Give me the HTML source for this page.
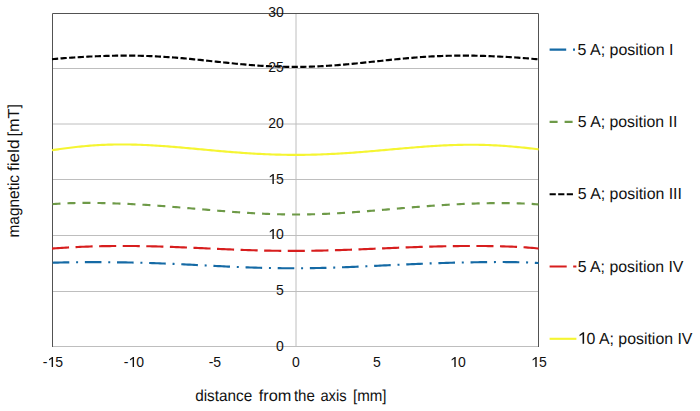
<!DOCTYPE html>
<html><head><meta charset="utf-8"><style>
html,body{margin:0;padding:0;background:#fff;width:700px;height:411px;overflow:hidden}
svg{display:block}
text{font-family:"Liberation Sans",sans-serif;fill:#111111}
</style></head><body>
<svg width="700" height="411" viewBox="0 0 700 411">
<rect width="700" height="411" fill="#fff"/>

<line x1="52" y1="68.5" x2="539" y2="68.5" stroke="#bebebe" stroke-width="1"/>
<line x1="52" y1="124.0" x2="539" y2="124.0" stroke="#bebebe" stroke-width="1"/>
<line x1="52" y1="179.5" x2="539" y2="179.5" stroke="#bebebe" stroke-width="1"/>
<line x1="52" y1="235.5" x2="539" y2="235.5" stroke="#bebebe" stroke-width="1"/>
<line x1="52" y1="291.5" x2="539" y2="291.5" stroke="#bebebe" stroke-width="1"/>
<line x1="52" y1="346.5" x2="539" y2="346.5" stroke="#bebebe" stroke-width="1"/>
<line x1="296" y1="13" x2="296" y2="346" stroke="#bebebe" stroke-width="1"/>
<path d="M52.5,347 L52.5,13.5 L538.5,13.5 L538.5,347" fill="none" stroke="#525252" stroke-width="1"/>
<path d="M52.00,262.74 L54.00,262.67 L56.00,262.61 L58.00,262.56 L60.00,262.51 L62.00,262.47 L64.00,262.43 L66.00,262.39 L68.00,262.35 L70.00,262.32 L72.00,262.30 L74.00,262.27 L76.00,262.25 L78.00,262.23 L80.00,262.21 L82.00,262.20 L84.00,262.19 L86.00,262.18 L88.00,262.17 L90.00,262.17 L92.00,262.16 L94.00,262.16 L96.00,262.16 L98.00,262.17 L100.00,262.17 L102.00,262.18 L104.00,262.19 L106.00,262.20 L108.00,262.21 L110.00,262.23 L112.00,262.25 L114.00,262.27 L116.00,262.29 L118.00,262.32 L120.00,262.34 L122.00,262.37 L124.00,262.40 L126.00,262.44 L128.00,262.47 L130.00,262.51 L132.00,262.55 L134.00,262.60 L136.00,262.64 L138.00,262.69 L140.00,262.74 L142.00,262.79 L144.00,262.85 L146.00,262.91 L148.00,262.97 L150.00,263.03 L152.00,263.09 L154.00,263.16 L156.00,263.23 L158.00,263.30 L160.00,263.37 L162.00,263.45 L164.00,263.52 L166.00,263.60 L168.00,263.68 L170.00,263.77 L172.00,263.85 L174.00,263.94 L176.00,264.03 L178.00,264.12 L180.00,264.21 L182.00,264.30 L184.00,264.40 L186.00,264.49 L188.00,264.59 L190.00,264.68 L192.00,264.78 L194.00,264.88 L196.00,264.98 L198.00,265.08 L200.00,265.18 L202.00,265.28 L204.00,265.38 L206.00,265.48 L208.00,265.58 L210.00,265.68 L212.00,265.78 L214.00,265.88 L216.00,265.98 L218.00,266.08 L220.00,266.18 L222.00,266.27 L224.00,266.37 L226.00,266.47 L228.00,266.56 L230.00,266.65 L232.00,266.74 L234.00,266.83 L236.00,266.92 L238.00,267.00 L240.00,267.09 L242.00,267.17 L244.00,267.25 L246.00,267.32 L248.00,267.40 L250.00,267.47 L252.00,267.54 L254.00,267.60 L256.00,267.67 L258.00,267.73 L260.00,267.79 L262.00,267.84 L264.00,267.89 L266.00,267.94 L268.00,267.99 L270.00,268.03 L272.00,268.07 L274.00,268.11 L276.00,268.14 L278.00,268.17 L280.00,268.19 L282.00,268.22 L284.00,268.23 L286.00,268.25 L288.00,268.26 L290.00,268.27 L292.00,268.27 L294.00,268.27 L296.00,268.27 L298.00,268.26 L300.00,268.25 L302.00,268.24 L304.00,268.22 L306.00,268.20 L308.00,268.18 L310.00,268.15 L312.00,268.12 L314.00,268.09 L316.00,268.05 L318.00,268.01 L320.00,267.97 L322.00,267.92 L324.00,267.87 L326.00,267.82 L328.00,267.76 L330.00,267.70 L332.00,267.64 L334.00,267.58 L336.00,267.51 L338.00,267.45 L340.00,267.37 L342.00,267.30 L344.00,267.23 L346.00,267.15 L348.00,267.07 L350.00,266.99 L352.00,266.91 L354.00,266.82 L356.00,266.73 L358.00,266.65 L360.00,266.56 L362.00,266.47 L364.00,266.38 L366.00,266.28 L368.00,266.19 L370.00,266.10 L372.00,266.00 L374.00,265.91 L376.00,265.81 L378.00,265.72 L380.00,265.62 L382.00,265.53 L384.00,265.43 L386.00,265.33 L388.00,265.24 L390.00,265.14 L392.00,265.05 L394.00,264.95 L396.00,264.86 L398.00,264.77 L400.00,264.67 L402.00,264.58 L404.00,264.49 L406.00,264.40 L408.00,264.31 L410.00,264.23 L412.00,264.14 L414.00,264.06 L416.00,263.97 L418.00,263.89 L420.00,263.81 L422.00,263.73 L424.00,263.65 L426.00,263.58 L428.00,263.50 L430.00,263.43 L432.00,263.36 L434.00,263.29 L436.00,263.22 L438.00,263.15 L440.00,263.09 L442.00,263.03 L444.00,262.97 L446.00,262.91 L448.00,262.85 L450.00,262.79 L452.00,262.74 L454.00,262.69 L456.00,262.64 L458.00,262.59 L460.00,262.54 L462.00,262.50 L464.00,262.46 L466.00,262.42 L468.00,262.38 L470.00,262.34 L472.00,262.31 L474.00,262.27 L476.00,262.24 L478.00,262.21 L480.00,262.19 L482.00,262.16 L484.00,262.14 L486.00,262.12 L488.00,262.10 L490.00,262.09 L492.00,262.07 L494.00,262.06 L496.00,262.05 L498.00,262.05 L500.00,262.05 L502.00,262.05 L504.00,262.05 L506.00,262.06 L508.00,262.08 L510.00,262.09 L512.00,262.12 L514.00,262.14 L516.00,262.17 L518.00,262.21 L520.00,262.26 L522.00,262.31 L524.00,262.36 L526.00,262.43 L528.00,262.50 L530.00,262.59 L532.00,262.68 L534.00,262.78 L536.00,262.89 L538.00,263.02 L538.60,263.06" fill="none" stroke="#156AA5" stroke-width="2.14" stroke-dasharray="16.6 6.8 2 6.76" stroke-dashoffset="-0.7"/>
<path d="M52.00,248.58 L54.00,248.42 L56.00,248.27 L58.00,248.12 L60.00,247.98 L62.00,247.85 L64.00,247.72 L66.00,247.59 L68.00,247.48 L70.00,247.37 L72.00,247.26 L74.00,247.16 L76.00,247.06 L78.00,246.97 L80.00,246.88 L82.00,246.80 L84.00,246.72 L86.00,246.64 L88.00,246.57 L90.00,246.50 L92.00,246.44 L94.00,246.38 L96.00,246.33 L98.00,246.28 L100.00,246.23 L102.00,246.19 L104.00,246.15 L106.00,246.12 L108.00,246.09 L110.00,246.06 L112.00,246.04 L114.00,246.02 L116.00,246.00 L118.00,245.99 L120.00,245.98 L122.00,245.98 L124.00,245.97 L126.00,245.98 L128.00,245.98 L130.00,245.99 L132.00,246.01 L134.00,246.02 L136.00,246.04 L138.00,246.07 L140.00,246.09 L142.00,246.12 L144.00,246.16 L146.00,246.19 L148.00,246.23 L150.00,246.28 L152.00,246.32 L154.00,246.37 L156.00,246.42 L158.00,246.48 L160.00,246.53 L162.00,246.59 L164.00,246.66 L166.00,246.72 L168.00,246.79 L170.00,246.86 L172.00,246.93 L174.00,247.00 L176.00,247.08 L178.00,247.15 L180.00,247.23 L182.00,247.31 L184.00,247.40 L186.00,247.48 L188.00,247.56 L190.00,247.65 L192.00,247.74 L194.00,247.83 L196.00,247.91 L198.00,248.00 L200.00,248.09 L202.00,248.18 L204.00,248.28 L206.00,248.37 L208.00,248.46 L210.00,248.55 L212.00,248.64 L214.00,248.73 L216.00,248.82 L218.00,248.91 L220.00,249.00 L222.00,249.09 L224.00,249.17 L226.00,249.26 L228.00,249.35 L230.00,249.43 L232.00,249.51 L234.00,249.59 L236.00,249.67 L238.00,249.75 L240.00,249.82 L242.00,249.90 L244.00,249.97 L246.00,250.04 L248.00,250.11 L250.00,250.17 L252.00,250.24 L254.00,250.30 L256.00,250.35 L258.00,250.41 L260.00,250.46 L262.00,250.51 L264.00,250.56 L266.00,250.60 L268.00,250.64 L270.00,250.68 L272.00,250.72 L274.00,250.75 L276.00,250.78 L278.00,250.80 L280.00,250.83 L282.00,250.85 L284.00,250.86 L286.00,250.87 L288.00,250.88 L290.00,250.89 L292.00,250.89 L294.00,250.89 L296.00,250.89 L298.00,250.88 L300.00,250.88 L302.00,250.86 L304.00,250.85 L306.00,250.83 L308.00,250.80 L310.00,250.78 L312.00,250.75 L314.00,250.72 L316.00,250.69 L318.00,250.65 L320.00,250.61 L322.00,250.57 L324.00,250.52 L326.00,250.47 L328.00,250.42 L330.00,250.37 L332.00,250.31 L334.00,250.25 L336.00,250.19 L338.00,250.13 L340.00,250.07 L342.00,250.00 L344.00,249.93 L346.00,249.86 L348.00,249.79 L350.00,249.72 L352.00,249.64 L354.00,249.57 L356.00,249.49 L358.00,249.41 L360.00,249.33 L362.00,249.25 L364.00,249.17 L366.00,249.08 L368.00,249.00 L370.00,248.92 L372.00,248.83 L374.00,248.75 L376.00,248.66 L378.00,248.58 L380.00,248.49 L382.00,248.41 L384.00,248.32 L386.00,248.24 L388.00,248.15 L390.00,248.07 L392.00,247.99 L394.00,247.90 L396.00,247.82 L398.00,247.74 L400.00,247.66 L402.00,247.58 L404.00,247.50 L406.00,247.43 L408.00,247.35 L410.00,247.28 L412.00,247.20 L414.00,247.13 L416.00,247.06 L418.00,247.00 L420.00,246.93 L422.00,246.87 L424.00,246.80 L426.00,246.74 L428.00,246.68 L430.00,246.63 L432.00,246.57 L434.00,246.52 L436.00,246.47 L438.00,246.42 L440.00,246.38 L442.00,246.33 L444.00,246.29 L446.00,246.25 L448.00,246.22 L450.00,246.18 L452.00,246.15 L454.00,246.12 L456.00,246.10 L458.00,246.08 L460.00,246.05 L462.00,246.04 L464.00,246.02 L466.00,246.01 L468.00,246.00 L470.00,245.99 L472.00,245.99 L474.00,245.99 L476.00,245.99 L478.00,245.99 L480.00,246.00 L482.00,246.02 L484.00,246.03 L486.00,246.05 L488.00,246.07 L490.00,246.10 L492.00,246.13 L494.00,246.16 L496.00,246.20 L498.00,246.24 L500.00,246.29 L502.00,246.34 L504.00,246.40 L506.00,246.46 L508.00,246.52 L510.00,246.60 L512.00,246.68 L514.00,246.76 L516.00,246.85 L518.00,246.95 L520.00,247.06 L522.00,247.17 L524.00,247.29 L526.00,247.43 L528.00,247.57 L530.00,247.72 L532.00,247.88 L534.00,248.05 L536.00,248.24 L538.00,248.44 L538.60,248.50" fill="none" stroke="#D71E1E" stroke-width="2.14" stroke-dasharray="17.1 6.49"/>
<path d="M52.00,204.15 L54.00,203.99 L56.00,203.84 L58.00,203.71 L60.00,203.60 L62.00,203.49 L64.00,203.39 L66.00,203.31 L68.00,203.23 L70.00,203.17 L72.00,203.11 L74.00,203.06 L76.00,203.02 L78.00,202.98 L80.00,202.96 L82.00,202.94 L84.00,202.93 L86.00,202.92 L88.00,202.92 L90.00,202.92 L92.00,202.93 L94.00,202.95 L96.00,202.97 L98.00,203.00 L100.00,203.03 L102.00,203.07 L104.00,203.11 L106.00,203.16 L108.00,203.21 L110.00,203.26 L112.00,203.32 L114.00,203.38 L116.00,203.45 L118.00,203.52 L120.00,203.60 L122.00,203.68 L124.00,203.76 L126.00,203.85 L128.00,203.94 L130.00,204.04 L132.00,204.13 L134.00,204.24 L136.00,204.34 L138.00,204.45 L140.00,204.57 L142.00,204.68 L144.00,204.80 L146.00,204.93 L148.00,205.05 L150.00,205.18 L152.00,205.32 L154.00,205.45 L156.00,205.59 L158.00,205.73 L160.00,205.88 L162.00,206.02 L164.00,206.17 L166.00,206.32 L168.00,206.48 L170.00,206.63 L172.00,206.79 L174.00,206.95 L176.00,207.12 L178.00,207.28 L180.00,207.45 L182.00,207.61 L184.00,207.78 L186.00,207.95 L188.00,208.12 L190.00,208.29 L192.00,208.47 L194.00,208.64 L196.00,208.81 L198.00,208.99 L200.00,209.16 L202.00,209.33 L204.00,209.51 L206.00,209.68 L208.00,209.85 L210.00,210.02 L212.00,210.20 L214.00,210.37 L216.00,210.53 L218.00,210.70 L220.00,210.87 L222.00,211.03 L224.00,211.19 L226.00,211.35 L228.00,211.51 L230.00,211.66 L232.00,211.81 L234.00,211.96 L236.00,212.11 L238.00,212.25 L240.00,212.39 L242.00,212.53 L244.00,212.66 L246.00,212.79 L248.00,212.92 L250.00,213.04 L252.00,213.16 L254.00,213.27 L256.00,213.38 L258.00,213.48 L260.00,213.58 L262.00,213.68 L264.00,213.77 L266.00,213.85 L268.00,213.93 L270.00,214.00 L272.00,214.07 L274.00,214.14 L276.00,214.20 L278.00,214.25 L280.00,214.30 L282.00,214.34 L284.00,214.37 L286.00,214.40 L288.00,214.43 L290.00,214.45 L292.00,214.46 L294.00,214.47 L296.00,214.47 L298.00,214.47 L300.00,214.46 L302.00,214.44 L304.00,214.42 L306.00,214.39 L308.00,214.36 L310.00,214.32 L312.00,214.28 L314.00,214.23 L316.00,214.17 L318.00,214.11 L320.00,214.04 L322.00,213.97 L324.00,213.89 L326.00,213.81 L328.00,213.72 L330.00,213.63 L332.00,213.54 L334.00,213.43 L336.00,213.33 L338.00,213.22 L340.00,213.10 L342.00,212.98 L344.00,212.86 L346.00,212.73 L348.00,212.60 L350.00,212.46 L352.00,212.32 L354.00,212.18 L356.00,212.04 L358.00,211.89 L360.00,211.74 L362.00,211.58 L364.00,211.43 L366.00,211.27 L368.00,211.11 L370.00,210.94 L372.00,210.78 L374.00,210.61 L376.00,210.44 L378.00,210.27 L380.00,210.10 L382.00,209.93 L384.00,209.76 L386.00,209.58 L388.00,209.41 L390.00,209.24 L392.00,209.06 L394.00,208.89 L396.00,208.71 L398.00,208.54 L400.00,208.37 L402.00,208.19 L404.00,208.02 L406.00,207.85 L408.00,207.68 L410.00,207.51 L412.00,207.35 L414.00,207.18 L416.00,207.02 L418.00,206.86 L420.00,206.70 L422.00,206.54 L424.00,206.39 L426.00,206.24 L428.00,206.09 L430.00,205.94 L432.00,205.80 L434.00,205.65 L436.00,205.52 L438.00,205.38 L440.00,205.25 L442.00,205.12 L444.00,204.99 L446.00,204.87 L448.00,204.75 L450.00,204.64 L452.00,204.53 L454.00,204.42 L456.00,204.32 L458.00,204.22 L460.00,204.12 L462.00,204.03 L464.00,203.94 L466.00,203.86 L468.00,203.78 L470.00,203.70 L472.00,203.63 L474.00,203.56 L476.00,203.50 L478.00,203.44 L480.00,203.38 L482.00,203.33 L484.00,203.29 L486.00,203.25 L488.00,203.21 L490.00,203.18 L492.00,203.15 L494.00,203.13 L496.00,203.12 L498.00,203.11 L500.00,203.10 L502.00,203.10 L504.00,203.11 L506.00,203.12 L508.00,203.14 L510.00,203.16 L512.00,203.19 L514.00,203.23 L516.00,203.27 L518.00,203.32 L520.00,203.38 L522.00,203.45 L524.00,203.53 L526.00,203.62 L528.00,203.71 L530.00,203.82 L532.00,203.93 L534.00,204.06 L536.00,204.20 L538.00,204.35 L538.60,204.40" fill="none" stroke="#6E9A48" stroke-width="2.14" stroke-dasharray="8 7" stroke-dashoffset="-0.5"/>
<path d="M52.00,150.21 L54.00,149.91 L56.00,149.62 L58.00,149.33 L60.00,149.04 L62.00,148.76 L64.00,148.49 L66.00,148.22 L68.00,147.97 L70.00,147.72 L72.00,147.47 L74.00,147.24 L76.00,147.01 L78.00,146.80 L80.00,146.59 L82.00,146.39 L84.00,146.20 L86.00,146.02 L88.00,145.85 L90.00,145.69 L92.00,145.54 L94.00,145.40 L96.00,145.27 L98.00,145.15 L100.00,145.04 L102.00,144.94 L104.00,144.84 L106.00,144.76 L108.00,144.69 L110.00,144.63 L112.00,144.58 L114.00,144.53 L116.00,144.50 L118.00,144.48 L120.00,144.46 L122.00,144.46 L124.00,144.46 L126.00,144.48 L128.00,144.50 L130.00,144.53 L132.00,144.57 L134.00,144.61 L136.00,144.67 L138.00,144.73 L140.00,144.80 L142.00,144.88 L144.00,144.96 L146.00,145.05 L148.00,145.15 L150.00,145.25 L152.00,145.36 L154.00,145.48 L156.00,145.60 L158.00,145.73 L160.00,145.86 L162.00,146.00 L164.00,146.14 L166.00,146.29 L168.00,146.44 L170.00,146.60 L172.00,146.76 L174.00,146.92 L176.00,147.09 L178.00,147.25 L180.00,147.43 L182.00,147.60 L184.00,147.78 L186.00,147.96 L188.00,148.14 L190.00,148.32 L192.00,148.50 L194.00,148.69 L196.00,148.87 L198.00,149.06 L200.00,149.24 L202.00,149.43 L204.00,149.61 L206.00,149.80 L208.00,149.98 L210.00,150.17 L212.00,150.35 L214.00,150.53 L216.00,150.71 L218.00,150.89 L220.00,151.07 L222.00,151.24 L224.00,151.42 L226.00,151.59 L228.00,151.75 L230.00,151.92 L232.00,152.08 L234.00,152.24 L236.00,152.39 L238.00,152.54 L240.00,152.69 L242.00,152.84 L244.00,152.98 L246.00,153.11 L248.00,153.24 L250.00,153.37 L252.00,153.49 L254.00,153.61 L256.00,153.73 L258.00,153.84 L260.00,153.94 L262.00,154.04 L264.00,154.13 L266.00,154.22 L268.00,154.30 L270.00,154.38 L272.00,154.45 L274.00,154.52 L276.00,154.58 L278.00,154.64 L280.00,154.68 L282.00,154.73 L284.00,154.77 L286.00,154.80 L288.00,154.83 L290.00,154.85 L292.00,154.86 L294.00,154.87 L296.00,154.87 L298.00,154.87 L300.00,154.86 L302.00,154.85 L304.00,154.82 L306.00,154.80 L308.00,154.77 L310.00,154.73 L312.00,154.68 L314.00,154.63 L316.00,154.58 L318.00,154.52 L320.00,154.45 L322.00,154.38 L324.00,154.30 L326.00,154.22 L328.00,154.13 L330.00,154.04 L332.00,153.94 L334.00,153.84 L336.00,153.73 L338.00,153.62 L340.00,153.51 L342.00,153.38 L344.00,153.26 L346.00,153.13 L348.00,153.00 L350.00,152.86 L352.00,152.72 L354.00,152.57 L356.00,152.42 L358.00,152.27 L360.00,152.12 L362.00,151.96 L364.00,151.80 L366.00,151.64 L368.00,151.47 L370.00,151.30 L372.00,151.13 L374.00,150.96 L376.00,150.79 L378.00,150.61 L380.00,150.44 L382.00,150.26 L384.00,150.08 L386.00,149.90 L388.00,149.72 L390.00,149.55 L392.00,149.37 L394.00,149.19 L396.00,149.01 L398.00,148.83 L400.00,148.65 L402.00,148.48 L404.00,148.30 L406.00,148.13 L408.00,147.96 L410.00,147.79 L412.00,147.62 L414.00,147.45 L416.00,147.29 L418.00,147.13 L420.00,146.98 L422.00,146.83 L424.00,146.68 L426.00,146.53 L428.00,146.39 L430.00,146.25 L432.00,146.12 L434.00,145.99 L436.00,145.87 L438.00,145.76 L440.00,145.64 L442.00,145.54 L444.00,145.44 L446.00,145.34 L448.00,145.26 L450.00,145.17 L452.00,145.10 L454.00,145.03 L456.00,144.97 L458.00,144.92 L460.00,144.87 L462.00,144.83 L464.00,144.80 L466.00,144.77 L468.00,144.76 L470.00,144.75 L472.00,144.75 L474.00,144.76 L476.00,144.78 L478.00,144.80 L480.00,144.83 L482.00,144.88 L484.00,144.93 L486.00,144.99 L488.00,145.05 L490.00,145.13 L492.00,145.22 L494.00,145.31 L496.00,145.41 L498.00,145.52 L500.00,145.64 L502.00,145.77 L504.00,145.90 L506.00,146.05 L508.00,146.20 L510.00,146.36 L512.00,146.53 L514.00,146.70 L516.00,146.88 L518.00,147.07 L520.00,147.26 L522.00,147.47 L524.00,147.67 L526.00,147.89 L528.00,148.10 L530.00,148.33 L532.00,148.55 L534.00,148.78 L536.00,149.02 L538.00,149.25 L538.60,149.32" fill="none" stroke="#F5F532" stroke-width="2.14"/>
<path d="M52.00,59.20 L54.00,59.01 L56.00,58.83 L58.00,58.65 L60.00,58.48 L62.00,58.32 L64.00,58.17 L66.00,58.02 L68.00,57.87 L70.00,57.73 L72.00,57.59 L74.00,57.46 L76.00,57.33 L78.00,57.21 L80.00,57.09 L82.00,56.97 L84.00,56.86 L86.00,56.75 L88.00,56.65 L90.00,56.55 L92.00,56.46 L94.00,56.37 L96.00,56.28 L98.00,56.20 L100.00,56.12 L102.00,56.05 L104.00,55.98 L106.00,55.92 L108.00,55.86 L110.00,55.81 L112.00,55.77 L114.00,55.73 L116.00,55.69 L118.00,55.66 L120.00,55.64 L122.00,55.62 L124.00,55.61 L126.00,55.61 L128.00,55.61 L130.00,55.62 L132.00,55.64 L134.00,55.66 L136.00,55.69 L138.00,55.73 L140.00,55.77 L142.00,55.82 L144.00,55.88 L146.00,55.94 L148.00,56.01 L150.00,56.09 L152.00,56.17 L154.00,56.26 L156.00,56.36 L158.00,56.47 L160.00,56.58 L162.00,56.69 L164.00,56.82 L166.00,56.95 L168.00,57.08 L170.00,57.23 L172.00,57.37 L174.00,57.53 L176.00,57.69 L178.00,57.85 L180.00,58.02 L182.00,58.19 L184.00,58.37 L186.00,58.55 L188.00,58.74 L190.00,58.93 L192.00,59.12 L194.00,59.32 L196.00,59.52 L198.00,59.72 L200.00,59.93 L202.00,60.13 L204.00,60.34 L206.00,60.55 L208.00,60.77 L210.00,60.98 L212.00,61.19 L214.00,61.41 L216.00,61.62 L218.00,61.83 L220.00,62.05 L222.00,62.26 L224.00,62.47 L226.00,62.68 L228.00,62.88 L230.00,63.09 L232.00,63.29 L234.00,63.49 L236.00,63.69 L238.00,63.88 L240.00,64.07 L242.00,64.25 L244.00,64.43 L246.00,64.61 L248.00,64.78 L250.00,64.95 L252.00,65.11 L254.00,65.26 L256.00,65.41 L258.00,65.56 L260.00,65.70 L262.00,65.83 L264.00,65.95 L266.00,66.07 L268.00,66.18 L270.00,66.28 L272.00,66.38 L274.00,66.46 L276.00,66.55 L278.00,66.62 L280.00,66.68 L282.00,66.74 L284.00,66.79 L286.00,66.83 L288.00,66.86 L290.00,66.89 L292.00,66.90 L294.00,66.91 L296.00,66.91 L298.00,66.90 L300.00,66.88 L302.00,66.86 L304.00,66.82 L306.00,66.78 L308.00,66.73 L310.00,66.67 L312.00,66.61 L314.00,66.53 L316.00,66.45 L318.00,66.36 L320.00,66.26 L322.00,66.16 L324.00,66.05 L326.00,65.93 L328.00,65.80 L330.00,65.67 L332.00,65.53 L334.00,65.39 L336.00,65.24 L338.00,65.08 L340.00,64.92 L342.00,64.75 L344.00,64.58 L346.00,64.40 L348.00,64.22 L350.00,64.03 L352.00,63.84 L354.00,63.65 L356.00,63.45 L358.00,63.25 L360.00,63.05 L362.00,62.84 L364.00,62.64 L366.00,62.43 L368.00,62.22 L370.00,62.00 L372.00,61.79 L374.00,61.58 L376.00,61.36 L378.00,61.15 L380.00,60.94 L382.00,60.72 L384.00,60.51 L386.00,60.30 L388.00,60.09 L390.00,59.88 L392.00,59.68 L394.00,59.47 L396.00,59.27 L398.00,59.08 L400.00,58.88 L402.00,58.69 L404.00,58.51 L406.00,58.33 L408.00,58.15 L410.00,57.98 L412.00,57.81 L414.00,57.64 L416.00,57.49 L418.00,57.33 L420.00,57.19 L422.00,57.04 L424.00,56.91 L426.00,56.78 L428.00,56.66 L430.00,56.54 L432.00,56.43 L434.00,56.33 L436.00,56.23 L438.00,56.14 L440.00,56.06 L442.00,55.98 L444.00,55.91 L446.00,55.85 L448.00,55.79 L450.00,55.75 L452.00,55.70 L454.00,55.67 L456.00,55.64 L458.00,55.62 L460.00,55.61 L462.00,55.60 L464.00,55.60 L466.00,55.60 L468.00,55.62 L470.00,55.64 L472.00,55.66 L474.00,55.69 L476.00,55.73 L478.00,55.77 L480.00,55.82 L482.00,55.87 L484.00,55.93 L486.00,56.00 L488.00,56.07 L490.00,56.15 L492.00,56.23 L494.00,56.31 L496.00,56.40 L498.00,56.50 L500.00,56.59 L502.00,56.70 L504.00,56.81 L506.00,56.92 L508.00,57.03 L510.00,57.15 L512.00,57.28 L514.00,57.41 L516.00,57.54 L518.00,57.68 L520.00,57.82 L522.00,57.97 L524.00,58.12 L526.00,58.28 L528.00,58.44 L530.00,58.61 L532.00,58.78 L534.00,58.97 L536.00,59.15 L538.00,59.35 L538.60,59.41" fill="none" stroke="#000000" stroke-width="2.14" stroke-dasharray="6.2 2.38"/>
<text x="268.23" y="16.60" font-size="14">3</text>
<text x="276.01" y="16.60" font-size="14">0</text>
<text x="268.23" y="72.25" font-size="14">2</text>
<text x="276.01" y="72.25" font-size="14">5</text>
<text x="268.23" y="127.90" font-size="14">2</text>
<text x="276.01" y="127.90" font-size="14">0</text>
<path d="M273.83,184.00 L272.43,184.00 L272.43,175.67 L269.77,177.42 L269.77,176.16 L272.85,173.98 L273.83,173.98 Z" fill="#111111"/>
<text x="276.01" y="183.55" font-size="14">5</text>
<path d="M273.83,239.00 L272.43,239.00 L272.43,230.67 L269.77,232.42 L269.77,231.16 L272.85,228.98 L273.83,228.98 Z" fill="#111111"/>
<text x="276.01" y="239.20" font-size="14">0</text>
<text x="276.01" y="294.85" font-size="14">5</text>
<text x="276.01" y="350.50" font-size="14">0</text>
<text x="42.78" y="367.30" font-size="14">-</text>
<path d="M53.04,367.00 L51.64,367.00 L51.64,358.67 L48.98,360.42 L48.98,359.16 L52.06,356.98 L53.04,356.98 Z" fill="#111111"/>
<text x="55.23" y="367.30" font-size="14">5</text>
<text x="123.78" y="367.30" font-size="14">-</text>
<path d="M134.04,367.00 L132.64,367.00 L132.64,358.67 L129.98,360.42 L129.98,359.16 L133.06,356.98 L134.04,356.98 Z" fill="#111111"/>
<text x="136.23" y="367.30" font-size="14">0</text>
<text x="208.68" y="367.30" font-size="14">-</text>
<text x="213.34" y="367.30" font-size="14">5</text>
<text x="292.01" y="367.30" font-size="14">0</text>
<text x="373.01" y="367.30" font-size="14">5</text>
<path d="M455.71,367.00 L454.31,367.00 L454.31,358.67 L451.65,360.42 L451.65,359.16 L454.73,356.98 L455.71,356.98 Z" fill="#111111"/>
<text x="457.90" y="367.30" font-size="14">0</text>
<path d="M536.71,367.00 L535.31,367.00 L535.31,358.67 L532.65,360.42 L532.65,359.16 L535.73,356.98 L536.71,356.98 Z" fill="#111111"/>
<text x="538.90" y="367.30" font-size="14">5</text>
<line x1="549.6" y1="49.60" x2="576.4" y2="49.60" stroke="#156AA5" stroke-width="2.14" stroke-dasharray="16.6 6.8 2 6.76"/>
<text x="577.6" y="54.80" font-size="16" text-rendering="geometricPrecision" textLength="95.86" lengthAdjust="spacingAndGlyphs">5 A; position I</text>
<line x1="549.6" y1="121.90" x2="576.4" y2="121.90" stroke="#6E9A48" stroke-width="2.14" stroke-dasharray="8 7"/>
<text x="577.8" y="127.05" font-size="16" text-rendering="geometricPrecision" textLength="99.52" lengthAdjust="spacingAndGlyphs">5 A; position II</text>
<line x1="549.6" y1="194.20" x2="573.3" y2="194.20" stroke="#000000" stroke-width="2.14" stroke-dasharray="6.2 2.38"/>
<text x="577.8" y="199.30" font-size="16" text-rendering="geometricPrecision" textLength="104.15" lengthAdjust="spacingAndGlyphs">5 A; position III</text>
<line x1="549.6" y1="266.50" x2="576.4" y2="266.50" stroke="#D71E1E" stroke-width="2.14" stroke-dasharray="17.1 6.49"/>
<text x="577.7" y="271.55" font-size="16" text-rendering="geometricPrecision" textLength="105.73" lengthAdjust="spacingAndGlyphs">5 A; position IV</text>
<line x1="549.6" y1="338.80" x2="576.4" y2="338.80" stroke="#F5F532" stroke-width="2.14"/>
<path d="M584.14,343.80 L582.56,343.80 L582.56,334.28 L579.54,336.28 L579.54,334.84 L583.03,332.34 L584.14,332.34 Z" fill="#111111"/>
<text x="586.62" y="343.80" font-size="16" text-rendering="geometricPrecision" textLength="105.82" lengthAdjust="spacingAndGlyphs">0 A; position IV</text>
<text x="195.2" y="400.5" font-size="16" text-rendering="geometricPrecision" textLength="56.99" lengthAdjust="spacingAndGlyphs">distance</text>
<text x="258.7" y="400.5" font-size="16" text-rendering="geometricPrecision" textLength="32.6" lengthAdjust="spacingAndGlyphs">from</text>
<text x="293.9" y="400.5" font-size="16" text-rendering="geometricPrecision" textLength="20.9" lengthAdjust="spacingAndGlyphs">the</text>
<text x="320.4" y="400.5" font-size="16" text-rendering="geometricPrecision" textLength="26.25" lengthAdjust="spacingAndGlyphs">axis</text>
<text x="353.0" y="400.5" font-size="16" text-rendering="geometricPrecision" textLength="33.55" lengthAdjust="spacingAndGlyphs">[mm]</text>
<g transform="translate(19.3,0) rotate(-90)">
<text x="-237.5" y="0" font-size="16" text-rendering="geometricPrecision" textLength="62.52" lengthAdjust="spacingAndGlyphs">magnetic</text>
<text x="-171.1" y="0" font-size="16" text-rendering="geometricPrecision" textLength="31.56" lengthAdjust="spacingAndGlyphs">field</text>
<text x="-136.5" y="0" font-size="16" text-rendering="geometricPrecision" textLength="32.6" lengthAdjust="spacingAndGlyphs">[mT]</text>
</g>
</svg>
</body></html>
